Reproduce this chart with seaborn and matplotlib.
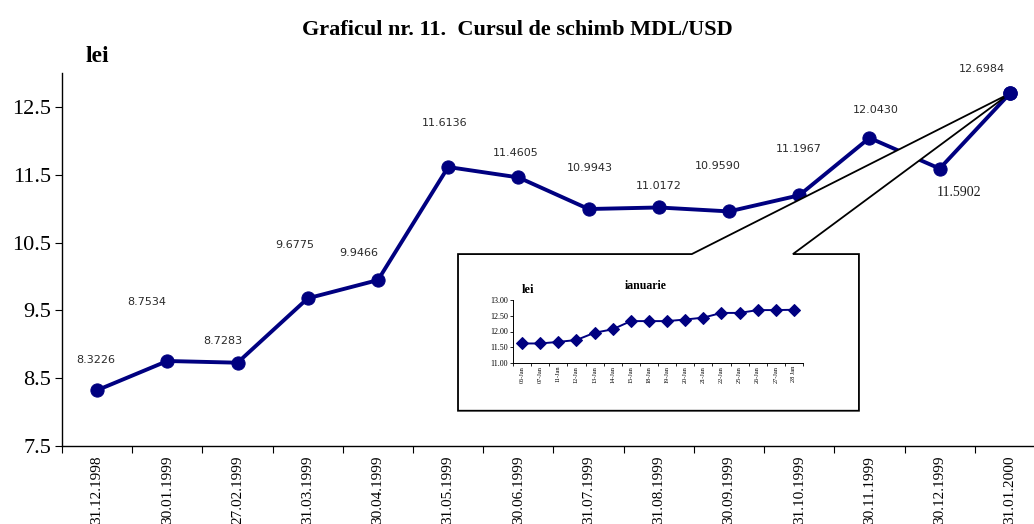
import numpy as np
import pandas as pd
import seaborn as sns
import matplotlib.pyplot as plt
from matplotlib.patches import Polygon


dates = ['31.12.1998', '30.01.1999', '27.02.1999', '31.03.1999', '30.04.1999',
         '31.05.1999', '30.06.1999', '31.07.1999', '31.08.1999', '30.09.1999',
         '31.10.1999', '30.11.1999', '30.12.1999', '31.01.2000']
rates = [8.3226, 8.7534, 8.7283, 9.6775, 9.9466, 11.6136, 11.4605,
         10.9943, 11.0172, 10.9590, 11.1967, 12.0430, 11.5902, 12.6984]

jan_days = ['06-Jan', '07-Jan', '11-Jan', '12-Jan', '13-Jan', '14-Jan', '15-Jan', '18-Jan',
            '19-Jan', '20-Jan', '21-Jan', '22-Jan', '25-Jan', '26-Jan', '27-Jan', '28 Jan']
jan_rates = [11.62, 11.62, 11.67, 11.73, 11.96, 12.07, 12.33, 12.33,
             12.33, 12.38, 12.44, 12.59, 12.59, 12.68, 12.68, 12.69]

# where excel dropped each value label, offset from its point in pixels
label_offsets = [(-1, 30), (-21, 59), (-15, 22), (-13, 53), (-19, 27), (-4, 44), (-3, 24),
                 (1, 41), (0, 21), (-11, 45), (0, 46), (6, 28), (19, -24), (-28, 24)]

navy = '#000080'
W, H = 1034, 524

sns.set_style('ticks')
plt.rcParams['font.family'] = ['Liberation Serif', 'DejaVu Serif']
plt.rcParams['text.color'] = 'black'
plt.rcParams['xtick.color'] = 'black'
plt.rcParams['ytick.color'] = 'black'

fig = plt.figure(figsize=(W / 100, H / 100), dpi=100)
ax = fig.add_axes([62 / W, (H - 446) / H, (1045 - 62) / W, (446 - 73) / H])

df = pd.DataFrame({'pos': np.arange(len(dates)), 'rate': rates})
sns.lineplot(data=df, x='pos', y='rate', ax=ax, color=navy, lw=2.8, marker='o',
             markersize=9.5, markeredgecolor=navy, zorder=2)

for i, (x, v) in enumerate(zip(df['pos'], df['rate'])):
    dx, dy = label_offsets[i]
    if i == 12:
        ax.annotate(f'{v:.4f}', (x, v), xytext=(dx, dy), textcoords='offset pixels',
                    ha='center', va='center', fontsize=10, color='#1a1a1a')
    else:
        ax.annotate(f'{v:.4f}', (x, v), xytext=(dx, dy), textcoords='offset pixels',
                    ha='center', va='center', fontsize=8, color='#2a2a2a',
                    family=['DejaVu Sans'])

ax.set_xlim(-0.5, len(dates) - 0.5)
ax.set_ylim(7.5, 13.0)
yt = np.arange(7.5, 12.6, 1.0)
ax.set_yticks(yt)
ax.set_yticklabels([f'{t:.1f}' for t in yt], fontsize=16)
ax.set_xticks(np.arange(len(dates) + 1) - 0.5)
ax.set_xticklabels([])
ax.set_xticks(np.arange(len(dates)), minor=True)
ax.set_xticklabels(dates, minor=True, rotation=90, va='top', fontsize=11)
ax.tick_params(axis='x', which='major', length=5, width=0.8, direction='out')
ax.tick_params(axis='x', which='minor', length=0, pad=7)
ax.tick_params(axis='y', length=5, width=0.8, pad=3)
ax.set_xlabel('')
ax.set_ylabel('')
sns.despine(ax=ax)
for s in ['left', 'bottom']:
    ax.spines[s].set_linewidth(1.0)
    ax.spines[s].set_color('black')

# callout box pointing at the last point
bx0, bx1, by0, by1 = 5.14, 10.85, 8.02, 10.33
gx0, gx1 = 8.47, 9.91
tip = (df['pos'].iloc[-1], df['rate'].iloc[-1])
callout = Polygon([(gx0, by1), tip, (gx1, by1), (bx1, by1), (bx1, by0), (bx0, by0), (bx0, by1)],
                  closed=True, fc='white', ec='black', lw=1.3, zorder=2.5)
ax.add_patch(callout)
ax.plot(df['pos'].iloc[-1:], df['rate'].iloc[-1:], 'o', color=navy, markersize=9.5, zorder=3)

# inset with the january daily rates
ins = fig.add_axes([513 / W, (H - 363) / H, 290 / W, 63 / H])
ins.set_facecolor('none')
jdf = pd.DataFrame({'pos': np.arange(len(jan_days)), 'rate': jan_rates})
sns.lineplot(data=jdf, x='pos', y='rate', ax=ins, color=navy, lw=1.4, marker='D',
             markersize=6.5, markeredgecolor=navy)
ins.set_xlim(-0.5, len(jan_days) - 0.5)
ins.set_ylim(11, 13)
it = np.arange(11, 13.01, 0.5)
ins.set_yticks(it)
ins.set_yticklabels([f'{t:.2f}' for t in it], fontsize=5.8)
ins.set_xticks(np.arange(len(jan_days) + 1) - 0.5)
ins.set_xticklabels([])
ins.set_xticks(np.arange(len(jan_days)), minor=True)
ins.set_xticklabels(jan_days, minor=True, rotation=90, va='top', fontsize=4.6)
ins.tick_params(axis='x', which='major', length=2, width=0.6)
ins.tick_params(axis='x', which='minor', length=0, pad=2)
ins.tick_params(axis='y', length=2, width=0.6, pad=1.5)
ins.set_xlabel('')
ins.set_ylabel('')
sns.despine(ax=ins)
for s in ['left', 'bottom']:
    ins.spines[s].set_linewidth(0.7)
    ins.spines[s].set_color('black')

fig.text(517 / W, 1 - 30 / H, 'Graficul nr. 11.  Cursul de schimb MDL/USD',
         ha='center', va='center', fontsize=16, fontweight='bold')
fig.text(97 / W, 1 - 57 / H, 'lei', ha='center', va='center', fontsize=17, fontweight='bold')
fig.text(528 / W, 1 - 290 / H, 'lei', ha='center', va='center', fontsize=9, fontweight='bold')
fig.text(646 / W, 1 - 286 / H, 'ianuarie', ha='center', va='center', fontsize=8.5, fontweight='bold')

fig.savefig('out.png', dpi=100)
